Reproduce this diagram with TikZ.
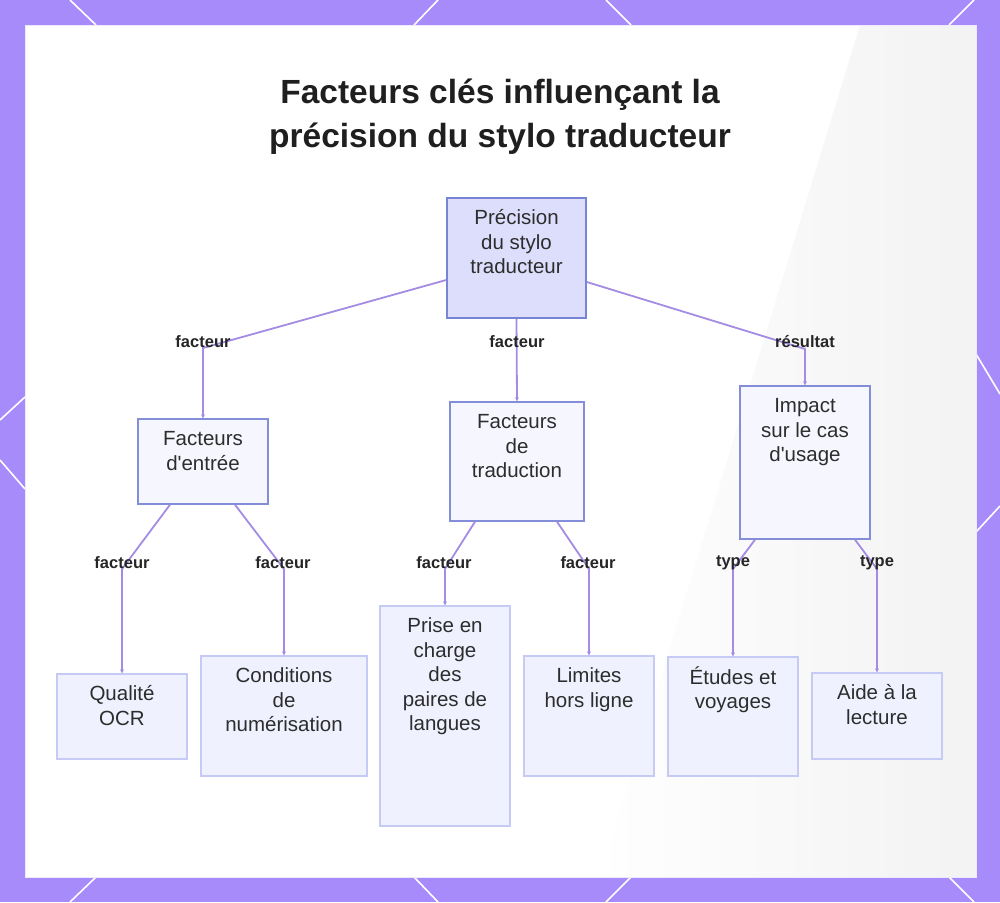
\documentclass[tikz,border=0pt]{standalone}
\usepackage{fontspec}
\setmainfont{Liberation Sans}
\usetikzlibrary{arrows.meta,positioning,calc}
\definecolor{frameviolet}{RGB}{167,139,250}
\definecolor{edgeviolet}{RGB}{164,140,228}
\definecolor{rootfill}{RGB}{221,222,252}
\definecolor{rootline}{RGB}{122,132,212}
\definecolor{midfill}{RGB}{246,247,254}
\definecolor{midline}{RGB}{132,142,216}
\definecolor{leaffill}{RGB}{239,242,254}
\definecolor{leafline}{RGB}{198,203,246}
\definecolor{inkgrey}{RGB}{45,45,45}

\tikzset{
  rootbox/.style={draw=rootline,line width=1.6pt,fill=rootfill,minimum width=139pt,inner sep=0pt},
  midbox/.style={draw=midline,line width=1.4pt,fill=midfill,minimum width=130pt,inner sep=0pt},
  leafbox/.style={draw=leafline,line width=1.4pt,fill=leaffill,minimum width=130pt,inner sep=0pt},
  boxtext/.style={anchor=north,inner sep=0pt,align=center,text=inkgrey,font=\fontsize{20.5}{24.5}\selectfont},
  edgelabel/.style={inner sep=0pt,text=black!85,font=\fontsize{16.5}{19}\selectfont\bfseries},
  link/.style={draw=edgeviolet,line width=1.8pt,-{Stealth[length=4pt,width=4pt]}},
  cornerline/.style={white,line width=1.6pt}
}

\begin{document}
\begin{tikzpicture}[x=1pt,y=-1pt]
\useasboundingbox (0,0) rectangle (1000,902);
% ---------- frame ----------
\fill[frameviolet] (0,0) rectangle (1000,902);
\draw[cornerline] (70,0) -- (96,25) (438,0) -- (414,25) (606,0) -- (631,25) (974,0) -- (949,25);
\draw[cornerline] (96,877) -- (70,902) (414,877) -- (438,902) (631,877) -- (606,902) (949,877) -- (974,902);
\draw[cornerline] (25,397) -- (0,420) (0,460) -- (25,489);
\draw[cornerline] (976,354) -- (1000,394) (1000,506) -- (976,532);
\fill[white] (25,25) rectangle (976,877);
\shade[left color=white,right color=black!8,opacity=0.6] (860,25) -- (976,25) -- (976,877) -- (600,877) -- cycle;
\draw[rootfill!60!white,line width=1pt] (25,25) rectangle (976,877);

% ---------- title ----------
\node[anchor=north,inner sep=0pt,align=center,text=black!88,font=\fontsize{33.5}{44}\selectfont\bfseries]
  (title) at (500,72) {\strut Facteurs clés influençant la\\précision du stylo traducteur};

% ---------- boxes ----------
\node[rootbox,minimum height=120pt] (root) at (516.5,258) {};
\node[midbox,minimum height=85pt] (inp) at (203,461.5) {};
\node[midbox,minimum width=134pt,minimum height=119pt] (trad) at (517,461.5) {};
\node[midbox,minimum height=153pt] (impact) at (805,462.5) {};
\node[leafbox,minimum height=85pt] (ocr) at (122,716.5) {};
\node[leafbox,minimum width=166pt,minimum height=120pt] (cond) at (284,716) {};
\node[leafbox,minimum height=220pt] (prise) at (445,716) {};
\node[leafbox,minimum height=120pt] (lim) at (589,716) {};
\node[leafbox,minimum height=119pt] (etud) at (733,716.5) {};
\node[leafbox,minimum height=86pt] (aide) at (877,716) {};

% ---------- box texts ----------
\node[boxtext] (root-t) at ([yshift=-10pt]root.north) {\strut Précision\\du stylo\\traducteur};
\node[boxtext] (inp-t) at ([yshift=-10pt]inp.north) {\strut Facteurs\\d\textquotesingle entrée};
\node[boxtext] (trad-t) at ([yshift=-10pt]trad.north) {\strut Facteurs\\de\\traduction};
\node[boxtext] (impact-t) at ([yshift=-10pt]impact.north) {\strut Impact\\sur le cas\\d\textquotesingle usage};
\node[boxtext] (ocr-t) at ([yshift=-10pt]ocr.north) {\strut Qualité\\OCR};
\node[boxtext] (cond-t) at ([yshift=-10pt]cond.north) {\strut Conditions\\de\\numérisation};
\node[boxtext] (prise-t) at ([yshift=-10pt]prise.north) {\strut Prise en\\charge\\des\\paires de\\langues};
\node[boxtext] (lim-t) at ([yshift=-10pt]lim.north) {\strut Limites\\hors ligne};
\node[boxtext] (etud-t) at ([yshift=-10pt]etud.north) {\strut Études et\\voyages};
\node[boxtext] (aide-t) at ([yshift=-10pt]aide.north) {\strut Aide à la\\lecture};

% ---------- bends ----------
\coordinate (bInp) at (203,348);
\coordinate (bImpact) at (805,349);
\coordinate (bOcr) at (122,569);
\coordinate (bCond) at (284,569);
\coordinate (bPrise) at (445,569);
\coordinate (bLim) at (589,569);
\coordinate (bEtud) at (733,569);
\coordinate (bAide) at (877,569);

% ---------- links ----------
\draw[link] ($(root.west)+(0,22)$) -- (bInp) -- (inp.north);
\draw[link] (root.south) -- (trad.north);
\draw[link] ($(root.east)+(0,24)$) -- (bImpact) -- (impact.north);
\draw[link] ($(inp.south)+(-33,0)$) -- (bOcr) -- (ocr.north);
\draw[link] ($(inp.south)+(32,0)$) -- (bCond) -- (cond.north);
\draw[link] ($(trad.south)+(-42,0)$) -- (bPrise) -- (prise.north);
\draw[link] ($(trad.south)+(40,0)$) -- (bLim) -- (lim.north);
\draw[link] ($(impact.south)+(-50,0)$) -- (bEtud) -- (etud.north);
\draw[link] ($(impact.south)+(50,0)$) -- (bAide) -- (aide.north);

% ---------- link labels ----------
\node[edgelabel] (l-inp) at (203,342) {facteur};
\node[edgelabel] (l-trad) at (517,342) {facteur};
\node[edgelabel] (l-impact) at (805,342) {résultat};
\node[edgelabel] (l-ocr) at (122,563) {facteur};
\node[edgelabel] (l-cond) at (283,563) {facteur};
\node[edgelabel] (l-prise) at (444,563) {facteur};
\node[edgelabel] (l-lim) at (588,563) {facteur};
\node[edgelabel] (l-etud) at (733,563) {type};
\node[edgelabel] (l-aide) at (877,563) {type};
\end{tikzpicture}
\end{document}
